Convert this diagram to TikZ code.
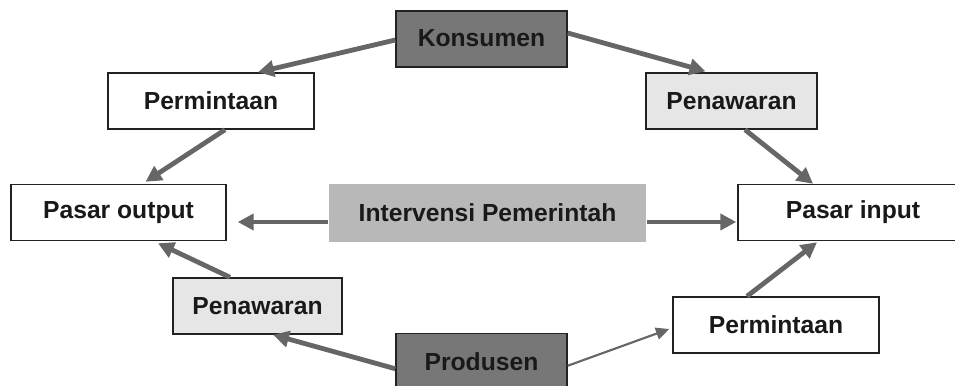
\documentclass[tikz,border=0pt]{standalone}
\usepackage{fontspec}
\setmainfont{Liberation Sans}
\usetikzlibrary{arrows.meta,calc}
\definecolor{arr}{HTML}{666666}
\definecolor{dark}{HTML}{777777}
\definecolor{light}{HTML}{E6E6E6}
\definecolor{mid}{HTML}{B8B8B8}
\definecolor{edge}{HTML}{222222}
\begin{document}
\begin{tikzpicture}[x=0.75pt,y=-0.75pt,
  box/.style={draw=edge,line width=1.1pt,inner sep=0pt,minimum height=42pt,
    font=\fontsize{18.5}{21}\selectfont\bfseries,text=black!90},
  flow/.style={draw=arr,line width=3.6pt,-{Triangle[length=12pt,width=12pt]}},
  thinflow/.style={draw=arr,line width=1.6pt,-{Triangle[length=10pt,width=9pt]}}]
\useasboundingbox (0,0) rectangle (955,385);
\clip (0,0) rectangle (955,385);
\fill[white] (0,0) rectangle (955,385);
\node[box,fill=dark,minimum width=128.25pt] (kons) at (481.5,39) {\raisebox{2pt}{Konsumen}};
\node[box,fill=white,minimum width=154.5pt] (permtl) at (211,101) {Permintaan};
\node[box,fill=light,minimum width=128.25pt] (pentr) at (731.5,101) {Penawaran};
\node[box,fill=white,minimum width=161.25pt] (pout) at (118.5,212.5) {Pasar output};
\node[box,draw=none,fill=mid,minimum width=237.75pt,minimum height=43.5pt] (interv) at (487.5,213) {Intervensi Pemerintah};
\node[box,fill=white,minimum width=172.5pt] (pin) at (853,212.5) {Pasar input};
\node[box,fill=light,minimum width=126.75pt] (penbl) at (257.5,306) {Penawaran};
\node[box,fill=white,minimum width=154.5pt] (permbr) at (776,325) {Permintaan};
\node[box,fill=dark,minimum width=128.25pt,anchor=north] (prod) at (481.5,333) {\raisebox{-1pt}{Produsen}};
\draw[flow] ($(kons.west)+(0,1)$) -- ($(permtl.north)+(47,0)$);
\draw[flow] ($(kons.east)+(0,-6)$) -- ($(pentr.north)+(-26,-1)$);
\draw[flow] ($(permtl.south)+(14,0)$) -- ($(pout.north)+(27,-2)$);
\draw[flow] ($(pentr.south)+(13.5,0)$) -- ($(pin.north)+(-40,0)$);
\draw[flow] ($(interv.west)+(0,9)$) -- ($(pout.east)+(11,9.5)$);
\draw[flow] ($(interv.east)+(0,9)$) -- ($(pin.west)+(-1,9.5)$);
\draw[flow] ($(penbl.north)+(-27.5,0)$) -- ($(pout.south)+(39.5,2)$);
\draw[flow] ($(prod.west)+(0,7)$) -- ($(penbl.south)+(15.5,0)$);
\draw[thinflow] ($(prod.east)+(0,4)$) -- ($(permbr.west)+(-3,4)$);
\draw[flow] ($(permbr.north)+(-29,0)$) -- ($(pin.south)+(-36,1)$);
\end{tikzpicture}
\end{document}
